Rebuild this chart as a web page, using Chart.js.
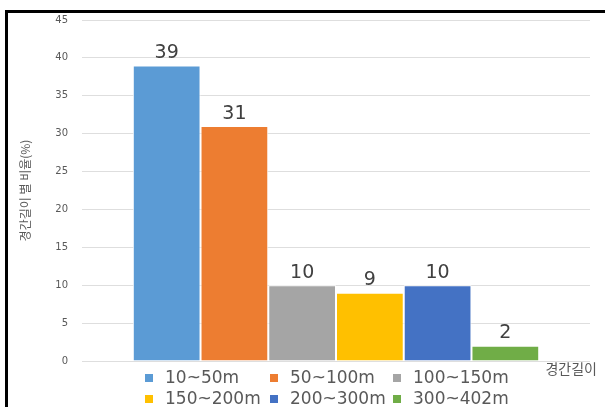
<!DOCTYPE html>
<html>
<head>
<meta charset="utf-8">
<script src="https://cdn.jsdelivr.net/npm/chart.js@4.4.1/dist/chart.umd.min.js"></script>
<style>
  html, body { margin: 0; padding: 0; background: #fff; }
  #wrap { position: relative; width: 605px; height: 407px; }
</style>
</head>
<body>
<div id="wrap"><canvas id="spanChart" width="605" height="407"></canvas></div>
<script>
  // ── Data ──────────────────────────────────────────────────────────
  var SPAN_RANGES = ['10~50m', '50~100m', '100~150m', '150~200m', '200~300m', '300~402m'];
  var SPAN_SHARE  = [39, 31, 10, 9, 10, 2];
  var BAR_COLORS  = ['#5B9BD5', '#ED7D31', '#A5A5A5', '#FFC000', '#4472C4', '#70AD47'];
  var Y_TITLE = '경간길이 별 비율(%)';
  var X_TITLE = '경간길이';

  var TEXT_GREY = '#595959';
  var LABEL_DARK = '#404040';

  var datasets = SPAN_RANGES.map(function (name, i) {
    return {
      label: name,
      data: [SPAN_SHARE[i]],
      backgroundColor: BAR_COLORS[i],
      borderColor: '#ffffff',
      borderWidth: 1,
      categoryPercentage: 0.8,
      barPercentage: 1.0
    };
  });

  // ── Plugins ───────────────────────────────────────────────────────

  // value labels above each bar
  var valueLabels = {
    id: 'valueLabels',
    afterDatasetsDraw: function (chart) {
      var ctx = chart.ctx;
      ctx.save();
      ctx.font = '19px "DejaVu Sans", sans-serif';
      ctx.fillStyle = LABEL_DARK;
      ctx.textAlign = 'center';
      ctx.textBaseline = 'bottom';
      chart.data.datasets.forEach(function (ds, i) {
        var bar = chart.getDatasetMeta(i).data[0];
        ctx.fillText(String(ds.data[0]), bar.x, bar.y - 3);
      });
      ctx.restore();
    }
  };

  // Excel-like legend grid (3 columns) + x title + frame
  var gridLegend = {
    id: 'gridLegend',
    afterDraw: function (chart) {
      var ctx = chart.ctx;
      var area = chart.chartArea;
      var colX = [145, 270, 393];
      var rowY = [area.bottom + 17, area.bottom + 38];
      ctx.save();

      ctx.font = '17px "DejaVu Sans", sans-serif';
      ctx.textBaseline = 'middle';
      ctx.textAlign = 'left';
      chart.data.datasets.forEach(function (ds, i) {
        var x = colX[i % 3];
        var y = rowY[Math.floor(i / 3)];
        ctx.fillStyle = ds.backgroundColor;
        ctx.fillRect(x, y - 4, 8, 8);
        ctx.fillStyle = TEXT_GREY;
        ctx.fillText(ds.label, x + 20, y + 1);
      });

      // x axis title at the right end
      ctx.font = '14px "Noto Sans CJK KR", sans-serif';
      ctx.textAlign = 'right';
      ctx.fillStyle = TEXT_GREY;
      ctx.fillText(X_TITLE, area.right + 7, area.bottom + 8);

      // frame (left + top only)
      ctx.strokeStyle = '#000';
      ctx.lineWidth = 3;
      ctx.beginPath();
      ctx.moveTo(6.5, chart.height);
      ctx.lineTo(6.5, 11.5);
      ctx.lineTo(chart.width, 11.5);
      ctx.stroke();

      ctx.restore();
    }
  };

  // ── Chart ─────────────────────────────────────────────────────────

  new Chart(document.getElementById('spanChart'), {
    type: 'bar',
    data: {
      labels: [''],
      datasets: datasets
    },
    options: {
      responsive: false,
      animation: false,
      layout: { padding: { left: 7, top: 19, right: 15, bottom: 46 } },
      plugins: {
        legend: { display: false },
        tooltip: { enabled: false }
      },
      scales: {
        x: { display: false },
        y: {
          min: 0,
          max: 45,
          ticks: {
            stepSize: 5,
            padding: 14,
            color: TEXT_GREY,
            font: { family: '"DejaVu Sans", sans-serif', size: 10 }
          },
          grid: { color: '#DEDEDE', drawTicks: false },
          border: { display: false },
          title: {
            display: true,
            text: Y_TITLE,
            color: TEXT_GREY,
            padding: { top: 11, bottom: 0 },
            font: { family: '"Noto Sans CJK KR", sans-serif', size: 12 }
          },
          afterFit: function (scale) { scale.width = 75; }
        }
      }
    },
    plugins: [valueLabels, gridLegend]
  });
</script>
</body>
</html>
